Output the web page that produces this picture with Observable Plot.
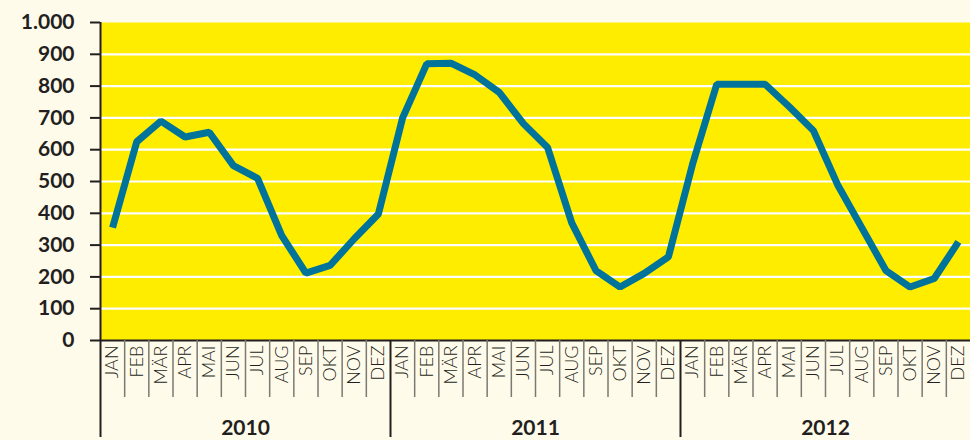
<!DOCTYPE html>
<html>
<head>
<meta charset="utf-8">
<script src="https://cdn.jsdelivr.net/npm/d3@7"></script>
<script src="https://cdn.jsdelivr.net/npm/@observablehq/plot@0.6"></script>
<style>
  html, body { margin: 0; padding: 0; background: #fffbea; }
  #chart svg { display: block; }
</style>
</head>
<body>
<div id="chart"></div>
<script>
const years = [2010, 2011, 2012];
const months = ["JAN", "FEB", "MÄR", "APR", "MAI", "JUN", "JUL", "AUG", "SEP", "OKT", "NOV", "DEZ"];
const values2010 = [355, 625, 690, 640, 655, 550, 510, 330, 212, 236, 320, 398];
const values2011 = [700, 870, 872, 835, 780, 682, 607, 370, 220, 168, 211, 263];
const values2012 = [555, 806, 806, 806, 735, 660, 490, 355, 220, 168, 195, 310];
const yTicks = [0, 100, 200, 300, 400, 500, 600, 700, 800, 900, 1000];
const gridTicks = [100, 200, 300, 400, 500, 600, 700, 800, 900];

const series = [values2010, values2011, values2012];
const data = years.flatMap((year, yi) =>
  months.map((month, mi) => ({ idx: yi * 12 + mi, year, month, value: series[yi][mi] }))
);
const nMonths = years.length * months.length;
const monthBounds = d3.range(1, nMonths).filter(i => i % 12 !== 0);
const yearBounds = d3.range(0, nMonths, 12);
const monthCenters = data.map(d => d.idx + 0.5);
const yearCenters = years.map((y, i) => i * 12 + 6);

const de = d3.formatLocale({ decimal: ",", thousands: ".", grouping: [3], currency: ["", " €"] });
const fmt = de.format(",");

const ink = "#231f20";
const font = "Lato, 'Noto Sans', sans-serif";

const chart = Plot.plot({
  width: 970,
  height: 440,
  marginLeft: 100,
  marginRight: 0,
  marginTop: 22,
  marginBottom: 100,
  style: { background: "#fffbea", fontFamily: font, color: ink, overflow: "visible" },
  x: { type: "linear", domain: [0, nMonths], axis: null },
  y: { domain: [0, 1000], axis: null },
  marks: [
    Plot.frame({ fill: "#ffed00", stroke: null }),
    Plot.gridY(gridTicks, { stroke: "#ffffff", strokeOpacity: 1, strokeWidth: 2.2 }),
    Plot.line(data, {
      x: d => d.idx + 0.5, y: "value",
      stroke: "#00739b", strokeWidth: 7, strokeLinejoin: "miter", strokeLinecap: "butt"
    }),
    Plot.ruleY([0], { stroke: ink, strokeWidth: 2 }),
    Plot.ruleX([0], { stroke: ink, strokeWidth: 2 }),
    Plot.axisY({
      ticks: yTicks, tickFormat: fmt, tickSize: 10, tickPadding: 16,
      stroke: ink, strokeWidth: 2, fill: ink,
      fontSize: 21, fontWeight: "bold", label: null
    }),
    Plot.axisX({
      ticks: monthBounds, tickFormat: () => "", tickSize: 57,
      stroke: "#7a7a72", strokeWidth: 1.5, label: null
    }),
    Plot.axisX({
      ticks: yearBounds, tickFormat: () => "", tickSize: 97,
      stroke: ink, strokeWidth: 2, label: null
    }),
    Plot.axisX({
      ticks: monthCenters, tickFormat: v => months[Math.floor(v) % 12],
      tickSize: 0, tickPadding: 5, tickRotate: -90,
      fontSize: 18, fontWeight: 300, fill: ink, label: null
    }),
    Plot.axisX({
      ticks: yearCenters, tickFormat: v => String(years[Math.floor(v / 12)]),
      tickSize: 0, tickPadding: 80,
      fontSize: 21, fontWeight: "bold", fill: ink, label: null
    })
  ]
});
document.getElementById("chart").append(chart);
</script>
</body>
</html>
